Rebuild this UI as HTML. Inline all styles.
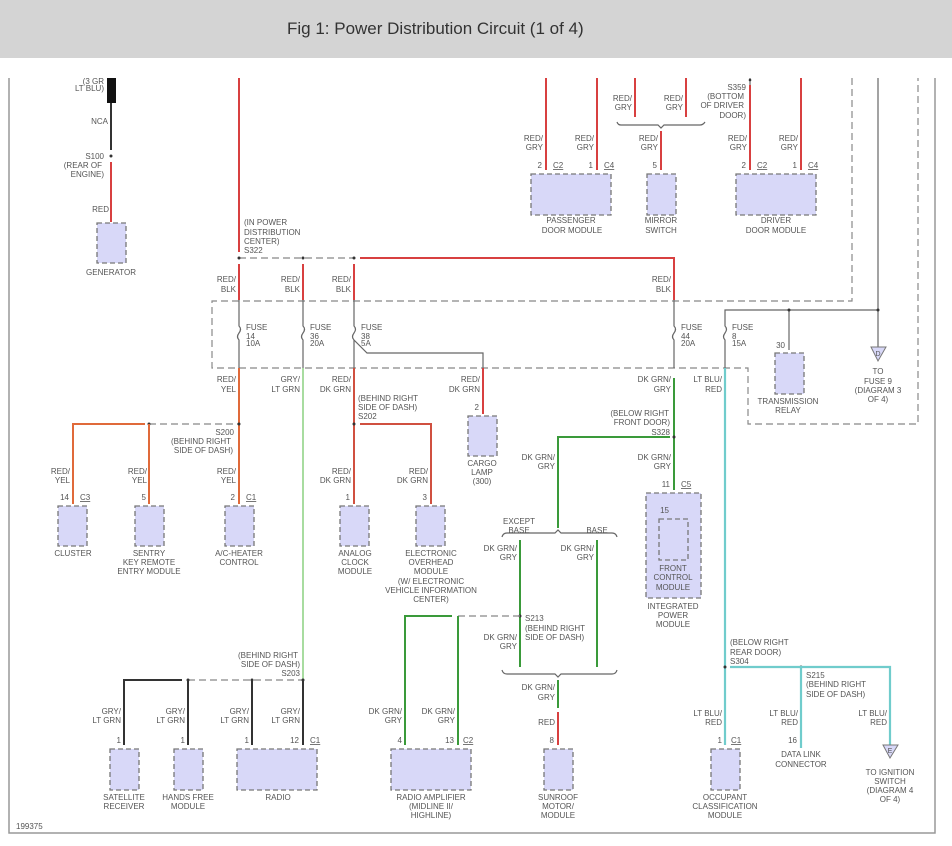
<!DOCTYPE html>
<html><head><meta charset="utf-8"><style>
html,body{margin:0;padding:0;background:#fff;}
svg{display:block;}
text{font-family:"Liberation Sans",sans-serif;font-size:8px;fill:#555;}
.t{font-size:17px;fill:#333;}
.b{fill:#d8d8f8;stroke:#777;stroke-width:1.3;stroke-dasharray:5,3;}
.d{fill:none;stroke:#888;stroke-width:1.2;stroke-dasharray:7,4;}
.r{stroke:#d84040;stroke-width:2;fill:none;}
.o{stroke:#e06a3a;stroke-width:2;fill:none;}
.g{stroke:#3a9a3a;stroke-width:2;fill:none;}
.lg{stroke:#a8dca0;stroke-width:2;fill:none;}
.c{stroke:#70cccc;stroke-width:2.2;fill:none;}
.k{stroke:#333;stroke-width:2;fill:none;}
.gy{stroke:#666;stroke-width:1.2;fill:none;}
.e{text-anchor:end;} .m{text-anchor:middle;}
</style></head><body>
<svg width="952" height="846" xmlns="http://www.w3.org/2000/svg">
<rect x="0" y="0" width="952" height="58" fill="#d4d4d4"/>
<text class="t" x="287" y="34">Fig 1: Power Distribution Circuit (1 of 4)</text>
<!-- frame -->
<path d="M9,78 V833 H935 V78" fill="none" stroke="#999" stroke-width="1.5"/>
<!-- fuse box dashed -->
<path class="d" d="M852,78 V301 H212 V368 H748 V424 H918 V78"/>

<!-- generator -->
<rect x="107" y="78" width="9" height="25" fill="#111"/>
<text class="e" x="104" y="84">(3 GR</text><text class="e" x="104" y="91">LT BLU)</text>
<line class="k" x1="111" y1="103" x2="111" y2="150"/>
<text class="e" x="108" y="124">NCA</text>
<circle cx="111" cy="156" r="1.5" fill="#333"/>
<text class="e" x="104" y="159">S100</text><text class="e" x="102" y="168">(REAR OF</text><text class="e" x="104" y="177">ENGINE)</text>
<line class="r" x1="111" y1="162" x2="111" y2="222"/>
<text class="e" x="109" y="212">RED</text>
<rect class="b" x="97" y="223" width="29" height="40"/>
<text class="m" x="111" y="275">GENERATOR</text>

<!-- main red -->
<line class="r" x1="239" y1="78" x2="239" y2="252"/>
<text x="244" y="225">(IN POWER</text><text x="244" y="235">DISTRIBUTION</text><text x="244" y="244">CENTER)</text><text x="244" y="253">S322</text>
<line class="d" x1="239" y1="258" x2="354" y2="258"/>
<circle cx="239" cy="258" r="1.5" fill="#333"/><circle cx="303" cy="258" r="1.5" fill="#333"/><circle cx="354" cy="258" r="1.5" fill="#333"/>
<path class="r" d="M360,258 H674 V300"/>
<line class="r" x1="239" y1="264" x2="239" y2="300"/>
<line class="r" x1="303" y1="264" x2="303" y2="300"/>
<line class="r" x1="354" y1="264" x2="354" y2="300"/>
<text class="e" x="236" y="282">RED/</text><text class="e" x="236" y="292">BLK</text>
<text class="e" x="300" y="282">RED/</text><text class="e" x="300" y="292">BLK</text>
<text class="e" x="351" y="282">RED/</text><text class="e" x="351" y="292">BLK</text>
<text class="e" x="671" y="282">RED/</text><text class="e" x="671" y="292">BLK</text>
<!-- fuses -->
<g class="gy">
<path d="M239,300 V326 q3,3 0,7 q-3,4 0,7 V368"/>
<path d="M303,300 V326 q3,3 0,7 q-3,4 0,7 V368"/>
<path d="M354,300 V326 q3,3 0,7 q-3,4 0,7 l13,13 H483 V368"/>
<path d="M354,340 V368"/>
<path d="M674,300 V326 q3,3 0,7 q-3,4 0,7 V368"/>
<path d="M725,368 V340 q-3,-3 0,-7 q3,-4 0,-7 V310 H878 V347"/>
<path d="M789,310 V350"/>
<path d="M878,78 V310"/>
<path d="M750,78 V85"/>
</g>
<circle cx="789" cy="310" r="1.5" fill="#333"/><circle cx="878" cy="310" r="1.5" fill="#333"/>
<text x="246" y="330">FUSE</text><text x="246" y="339">14</text><text x="246" y="346">10A</text>
<text x="310" y="330">FUSE</text><text x="310" y="339">36</text><text x="310" y="346">20A</text>
<text x="361" y="330">FUSE</text><text x="361" y="339">38</text><text x="361" y="346">5A</text>
<text x="681" y="330">FUSE</text><text x="681" y="339">44</text><text x="681" y="346">20A</text>
<text x="732" y="330">FUSE</text><text x="732" y="339">8</text><text x="732" y="346">15A</text>
<!-- transmission relay -->
<text class="e" x="785" y="348">30</text>
<rect class="b" x="775" y="353" width="29" height="41"/>
<text class="m" x="788" y="404">TRANSMISSION</text><text class="m" x="788" y="413">RELAY</text>
<path d="M871,347 H886 L878,361 Z" fill="#d8d8f8" stroke="#777"/>
<text class="m" x="878" y="356" style="font-size:7px">D</text>
<text class="m" x="878" y="374">TO</text><text class="m" x="878" y="384">FUSE 9</text><text class="m" x="878" y="393">(DIAGRAM 3</text><text class="m" x="878" y="402">OF 4)</text>

<!-- cargo lamp -->
<line class="r" x1="483" y1="368" x2="483" y2="414"/>
<text class="e" x="480" y="382">RED/</text><text class="e" x="480" y="392">DK GRN</text>
<text class="e" x="479" y="410">2</text>
<rect class="b" x="468" y="416" width="29" height="40"/>
<text class="m" x="482" y="466">CARGO</text><text class="m" x="482" y="475">LAMP</text><text class="m" x="482" y="484">(300)</text>

<!-- S200 orange -->
<line class="o" x1="239" y1="368" x2="239" y2="504"/>
<text class="e" x="236" y="382">RED/</text><text class="e" x="236" y="392">YEL</text>
<line class="d" x1="149" y1="424" x2="239" y2="424"/>
<circle cx="149" cy="424" r="1.5" fill="#333"/><circle cx="239" cy="424" r="1.5" fill="#333"/>
<path class="o" d="M145,424 H73 V504"/><line class="o" x1="149" y1="424" x2="149" y2="504"/>
<text class="e" x="234" y="435">S200</text><text class="e" x="231" y="444">(BEHIND RIGHT</text><text class="e" x="233" y="453">SIDE OF DASH)</text>
<text class="e" x="70" y="474">RED/</text><text class="e" x="70" y="483">YEL</text>
<text class="e" x="147" y="474">RED/</text><text class="e" x="147" y="483">YEL</text>
<text class="e" x="236" y="474">RED/</text><text class="e" x="236" y="483">YEL</text>
<text class="e" x="69" y="500">14</text><text x="80" y="500" text-decoration="underline">C3</text>
<text class="e" x="146" y="500">5</text>
<text class="e" x="235" y="500">2</text><text x="246" y="500" text-decoration="underline">C1</text>
<rect class="b" x="58" y="506" width="29" height="40"/>
<rect class="b" x="135" y="506" width="29" height="40"/>
<rect class="b" x="225" y="506" width="29" height="40"/>
<text class="m" x="73" y="556">CLUSTER</text>
<text class="m" x="149" y="556">SENTRY</text><text class="m" x="149" y="565">KEY REMOTE</text><text class="m" x="149" y="574">ENTRY MODULE</text>
<text class="m" x="239" y="556">A/C-HEATER</text><text class="m" x="239" y="565">CONTROL</text>

<!-- S202 -->
<line class="r" x1="354" y1="368" x2="354" y2="504" style="stroke:#d05040"/>
<text class="e" x="351" y="382">RED/</text><text class="e" x="351" y="392">DK GRN</text>
<text x="358" y="401">(BEHIND RIGHT</text><text x="358" y="410">SIDE OF DASH)</text><text x="358" y="419">S202</text>
<circle cx="354" cy="424" r="1.5" fill="#333"/>
<path class="r" d="M360,424 H431 V504" style="stroke:#d05040"/>
<text class="e" x="351" y="474">RED/</text><text class="e" x="351" y="483">DK GRN</text>
<text class="e" x="428" y="474">RED/</text><text class="e" x="428" y="483">DK GRN</text>
<text class="e" x="350" y="500">1</text><text class="e" x="427" y="500">3</text>
<rect class="b" x="340" y="506" width="29" height="40"/>
<rect class="b" x="416" y="506" width="29" height="40"/>
<text class="m" x="355" y="556">ANALOG</text><text class="m" x="355" y="565">CLOCK</text><text class="m" x="355" y="574">MODULE</text>
<text class="m" x="431" y="556">ELECTRONIC</text><text class="m" x="431" y="565">OVERHEAD</text><text class="m" x="431" y="574">MODULE</text><text class="m" x="431" y="584">(W/ ELECTRONIC</text><text class="m" x="431" y="593">VEHICLE INFORMATION</text><text class="m" x="431" y="602">CENTER)</text>

<!-- light green radio line -->
<line class="lg" x1="303" y1="368" x2="303" y2="680"/>
<text class="e" x="300" y="382">GRY/</text><text class="e" x="300" y="392">LT GRN</text>
<text class="e" x="298" y="658">(BEHIND RIGHT</text><text class="e" x="300" y="667">SIDE OF DASH)</text><text class="e" x="300" y="676">S203</text>
<line class="d" x1="188" y1="680" x2="303" y2="680"/>
<circle cx="188" cy="680" r="1.5" fill="#333"/><circle cx="252" cy="680" r="1.5" fill="#333"/><circle cx="303" cy="680" r="1.5" fill="#333"/>
<path class="k" d="M182,680 H124 V745"/>
<line class="k" x1="188" y1="680" x2="188" y2="745"/>
<line class="k" x1="252" y1="680" x2="252" y2="745"/>
<line class="k" x1="303" y1="680" x2="303" y2="745"/>
<text class="e" x="121" y="714">GRY/</text><text class="e" x="121" y="723">LT GRN</text>
<text class="e" x="185" y="714">GRY/</text><text class="e" x="185" y="723">LT GRN</text>
<text class="e" x="249" y="714">GRY/</text><text class="e" x="249" y="723">LT GRN</text>
<text class="e" x="300" y="714">GRY/</text><text class="e" x="300" y="723">LT GRN</text>
<text class="e" x="121" y="743">1</text><text class="e" x="185" y="743">1</text><text class="e" x="249" y="743">1</text><text class="e" x="299" y="743">12</text><text x="310" y="743" text-decoration="underline">C1</text>
<rect class="b" x="110" y="749" width="29" height="41"/>
<rect class="b" x="174" y="749" width="29" height="41"/>
<rect class="b" x="237" y="749" width="80" height="41"/>
<text class="m" x="124" y="800">SATELLITE</text><text class="m" x="124" y="809">RECEIVER</text>
<text class="m" x="188" y="800">HANDS FREE</text><text class="m" x="188" y="809">MODULE</text>
<text class="m" x="278" y="800">RADIO</text>
<text x="16" y="829">199375</text>

<!-- green S328 -->
<text class="e" x="671" y="382">DK GRN/</text><text class="e" x="671" y="392">GRY</text>
<line class="g" x1="674" y1="378" x2="674" y2="490"/>
<text class="e" x="669" y="416">(BELOW RIGHT</text><text class="e" x="670" y="425">FRONT DOOR)</text><text class="e" x="670" y="435">S328</text>
<circle cx="674" cy="437" r="1.5" fill="#333"/>
<path class="g" d="M670,437 H558 V528"/>
<text class="e" x="555" y="460">DK GRN/</text><text class="e" x="555" y="469">GRY</text>
<text class="e" x="671" y="460">DK GRN/</text><text class="e" x="671" y="469">GRY</text>
<text class="e" x="670" y="487">11</text><text x="681" y="487" text-decoration="underline">C5</text>
<rect class="b" x="646" y="493" width="55" height="105"/>
<text class="e" x="669" y="513">15</text>
<rect class="b" x="659" y="519" width="29" height="41"/>
<text class="m" x="673" y="571">FRONT</text><text class="m" x="673" y="580">CONTROL</text><text class="m" x="673" y="590">MODULE</text>
<text class="m" x="673" y="609">INTEGRATED</text><text class="m" x="673" y="618">POWER</text><text class="m" x="673" y="627">MODULE</text>
<!-- brace 1 -->
<path class="gy" d="M502,537 q1,-4 5,-4 H555 l3,-3 l3,3 H612 q4,0 5,4"/>
<text class="m" x="519" y="524">EXCEPT</text><text class="m" x="519" y="533">BASE</text><text class="m" x="597" y="533">BASE</text>
<line class="g" x1="520" y1="540" x2="520" y2="667"/>
<line class="g" x1="597" y1="540" x2="597" y2="667"/>
<text class="e" x="517" y="551">DK GRN/</text><text class="e" x="517" y="560">GRY</text>
<text class="e" x="594" y="551">DK GRN/</text><text class="e" x="594" y="560">GRY</text>
<circle cx="520" cy="616" r="1.5" fill="#333"/>
<line class="d" x1="458" y1="616" x2="520" y2="616"/>
<path class="g" d="M452,616 H405 V745"/><line class="g" x1="458" y1="616" x2="458" y2="745"/>
<text x="525" y="621">S213</text><text x="525" y="631">(BEHIND RIGHT</text><text x="525" y="640">SIDE OF DASH)</text>
<text class="e" x="517" y="640">DK GRN/</text><text class="e" x="517" y="649">GRY</text>
<path class="gy" d="M502,670 q1,4 5,4 H555 l3,3 l3,-3 H612 q4,0 5,-4"/>
<line class="g" x1="558" y1="680" x2="558" y2="708"/>
<text class="e" x="555" y="690">DK GRN/</text><text class="e" x="555" y="700">GRY</text>
<line class="r" x1="558" y1="712" x2="558" y2="745"/>
<text class="e" x="555" y="725">RED</text><text class="e" x="554" y="743">8</text>
<rect class="b" x="544" y="749" width="29" height="41"/>
<text class="m" x="558" y="800">SUNROOF</text><text class="m" x="558" y="809">MOTOR/</text><text class="m" x="558" y="818">MODULE</text>
<text class="e" x="402" y="714">DK GRN/</text><text class="e" x="402" y="723">GRY</text>
<text class="e" x="455" y="714">DK GRN/</text><text class="e" x="455" y="723">GRY</text>
<text class="e" x="402" y="743">4</text><text class="e" x="454" y="743">13</text><text x="463" y="743" text-decoration="underline">C2</text>
<rect class="b" x="391" y="749" width="80" height="41"/>
<text class="m" x="431" y="800">RADIO AMPLIFIER</text><text class="m" x="431" y="809">(MIDLINE II/</text><text class="m" x="431" y="818">HIGHLINE)</text>

<!-- teal -->
<text class="e" x="722" y="382">LT BLU/</text><text class="e" x="722" y="392">RED</text>
<line class="c" x1="725" y1="368" x2="725" y2="745"/>
<text x="730" y="645">(BELOW RIGHT</text><text x="730" y="655">REAR DOOR)</text><text x="730" y="664">S304</text>
<circle cx="725" cy="667" r="1.5" fill="#333"/><circle cx="801" cy="667" r="1.5" fill="#333"/>
<path class="c" d="M730,667 H890 V745"/><line class="c" x1="801" y1="667" x2="801" y2="748"/>
<text x="806" y="678">S215</text><text x="806" y="687">(BEHIND RIGHT</text><text x="806" y="697">SIDE OF DASH)</text>
<text class="e" x="722" y="716">LT BLU/</text><text class="e" x="722" y="725">RED</text>
<text class="e" x="798" y="716">LT BLU/</text><text class="e" x="798" y="725">RED</text>
<text class="e" x="887" y="716">LT BLU/</text><text class="e" x="887" y="725">RED</text>
<text class="e" x="722" y="743">1</text><text x="731" y="743" text-decoration="underline">C1</text>
<text class="e" x="797" y="743">16</text>
<rect class="b" x="711" y="749" width="29" height="41"/>
<text class="m" x="725" y="800">OCCUPANT</text><text class="m" x="725" y="809">CLASSIFICATION</text><text class="m" x="725" y="818">MODULE</text>
<text class="m" x="801" y="757">DATA LINK</text><text class="m" x="801" y="767">CONNECTOR</text>
<path d="M883,745 H898 L890,758 Z" fill="#d8d8f8" stroke="#777"/>
<text class="m" x="890" y="753" style="font-size:7px">E</text>
<text class="m" x="890" y="775">TO IGNITION</text><text class="m" x="890" y="784">SWITCH</text><text class="m" x="890" y="793">(DIAGRAM 4</text><text class="m" x="890" y="802">OF 4)</text>

<!-- top door modules -->
<line class="r" x1="546" y1="78" x2="546" y2="170"/><line class="r" x1="597" y1="78" x2="597" y2="170"/>
<text class="e" x="543" y="141">RED/</text><text class="e" x="543" y="150">GRY</text>
<text class="e" x="594" y="141">RED/</text><text class="e" x="594" y="150">GRY</text>
<text class="e" x="542" y="168">2</text><text x="553" y="168" text-decoration="underline">C2</text>
<text class="e" x="593" y="168">1</text><text x="604" y="168" text-decoration="underline">C4</text>
<rect class="b" x="531" y="174" width="80" height="41"/>
<text class="m" x="571" y="223">PASSENGER</text><text class="m" x="572" y="233">DOOR MODULE</text>
<line class="r" x1="635" y1="78" x2="635" y2="117"/><line class="r" x1="686" y1="78" x2="686" y2="117"/>
<text class="e" x="632" y="101">RED/</text><text class="e" x="632" y="110">GRY</text>
<text class="e" x="683" y="101">RED/</text><text class="e" x="683" y="110">GRY</text>
<path class="gy" d="M617,122 q1,3 4,3 H658 l3,3 l3,-3 H700 q3,0 5,-3"/>
<line class="r" x1="661" y1="131" x2="661" y2="170"/>
<text class="e" x="658" y="141">RED/</text><text class="e" x="658" y="150">GRY</text>
<text class="e" x="657" y="168">5</text>
<rect class="b" x="647" y="174" width="29" height="41"/>
<text class="m" x="661" y="223">MIRROR</text><text class="m" x="661" y="233">SWITCH</text>
<line class="r" x1="750" y1="85" x2="750" y2="170"/><line class="r" x1="801" y1="78" x2="801" y2="170"/>
<circle cx="750" cy="80" r="1.3" fill="#333"/>
<text class="e" x="746" y="90">S359</text><text class="e" x="744" y="99">(BOTTOM</text><text class="e" x="744" y="108">OF DRIVER</text><text class="e" x="746" y="118">DOOR)</text>
<text class="e" x="747" y="141">RED/</text><text class="e" x="747" y="150">GRY</text>
<text class="e" x="798" y="141">RED/</text><text class="e" x="798" y="150">GRY</text>
<text class="e" x="746" y="168">2</text><text x="757" y="168" text-decoration="underline">C2</text>
<text class="e" x="797" y="168">1</text><text x="808" y="168" text-decoration="underline">C4</text>
<rect class="b" x="736" y="174" width="80" height="41"/>
<text class="m" x="776" y="223">DRIVER</text><text class="m" x="776" y="233">DOOR MODULE</text>
</svg>
</body></html>
